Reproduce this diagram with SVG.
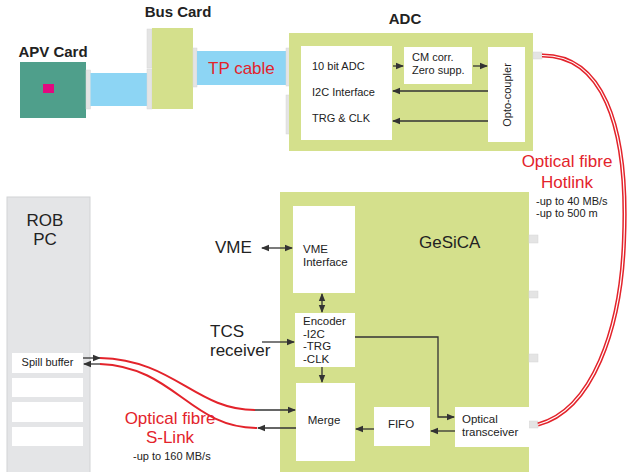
<svg xmlns="http://www.w3.org/2000/svg" width="627" height="472" viewBox="0 0 627 472">
<defs>
<style>
.g{fill:#d4e08c}
.w{fill:#ffffff}
.cn{fill:#e4e4e4;stroke:#d6d6d6;stroke-width:0.5}
.blue{fill:#8dd5f4}
text{font-family:"Liberation Sans",Arial,sans-serif;fill:#222}
.b15{font-size:15px;font-weight:bold}
.s11{font-size:11px}
.s115{font-size:11.5px}
.s17{font-size:17px}
.red{fill:#e3232b}
.ln{stroke:#333;stroke-width:1.3;fill:none}
.fib{stroke:#e3232b;stroke-width:2;fill:none}
</style>
<marker id="ah" viewBox="0 0 8 8" refX="7" refY="4" markerWidth="8" markerHeight="8" markerUnits="userSpaceOnUse" orient="auto-start-reverse">
<path d="M0,0.8 L8,4 L0,7.2 Z" fill="#333"/>
</marker>
</defs>

<g id="apv-card">
<rect x="20" y="62" width="66" height="56" fill="#4f9f8b"/>
<rect x="43" y="84" width="11" height="9" fill="#e2097f"/>
<rect class="cn" x="86" y="70" width="4.5" height="39"/>
<text class="b15" x="53" y="57" text-anchor="middle">APV Card</text>
</g>

<g id="apv-cable">
<rect class="blue" x="90.5" y="73" width="56.5" height="33"/>
</g>

<g id="bus-card">
<rect class="cn" x="147" y="29" width="5" height="39"/>
<rect class="cn" x="147" y="69" width="5" height="40"/>
<rect class="g" x="152" y="28" width="41" height="81"/>
<rect class="cn" x="193" y="48" width="4" height="39"/>
<text class="b15" x="178" y="17" text-anchor="middle">Bus Card</text>
</g>

<g id="tp-cable">
<rect class="blue" x="197" y="51" width="90" height="34"/>
<text class="s17 red" x="208" y="74">TP cable</text>
</g>

<g id="adc">
<rect class="cn" x="286" y="48" width="4" height="38"/>
<rect class="cn" x="286" y="95" width="4" height="39"/>
<rect class="g" x="289" y="33" width="244" height="118"/>
<text class="b15" x="405" y="24" text-anchor="middle">ADC</text>
<rect class="cn" x="533" y="52" width="9" height="7"/>
</g>

<g id="adc-main">
<rect class="w" x="301" y="46" width="91" height="94"/>
<text class="s11" x="312" y="70">10 bit ADC</text>
<text class="s11" x="312" y="96">I2C Interface</text>
<text class="s11" x="312" y="122">TRG &amp; CLK</text>
</g>

<g id="cm-corr">
<rect class="w" x="404" y="47" width="68" height="37"/>
<text class="s11" x="412" y="61">CM corr.</text>
<text class="s11" x="412" y="74">Zero supp.</text>
</g>

<g id="opto-coupler">
<rect class="w" x="488" y="47" width="37" height="95"/>
<text class="s11" x="0" y="0" text-anchor="middle" transform="translate(511,95) rotate(-90)">Opto-coupler</text>
</g>

<g id="rob-pc">
<rect x="7" y="197" width="83" height="277" fill="#e4e5e7" stroke="#d2d3d5" stroke-width="1"/>
<text class="s17" x="45" y="226" text-anchor="middle">ROB</text>
<text class="s17" x="45" y="245" text-anchor="middle">PC</text>
<rect class="w" x="12" y="353" width="71" height="20"/>
<text class="s11" x="47.5" y="366" text-anchor="middle">Spill buffer</text>
<rect class="w" x="12" y="378" width="71" height="19"/>
<rect class="w" x="12" y="402" width="71" height="20"/>
<rect class="w" x="12" y="427" width="71" height="19"/>
</g>

<g id="gesica">
<rect class="g" x="280" y="192" width="249" height="282"/>
<text class="s17" x="419" y="248">GeSiCA</text>
<rect class="cn" x="529" y="235" width="9" height="8"/>
<rect class="cn" x="529" y="291" width="9" height="7"/>
<rect class="cn" x="529" y="354" width="9" height="8"/>
<rect class="cn" x="529" y="421" width="9" height="7"/>
</g>

<g id="vme-interface">
<rect class="w" x="293" y="206" width="62" height="87"/>
<text class="s115" x="303" y="253">VME</text>
<text class="s115" x="303" y="266">Interface</text>
</g>

<g id="encoder">
<rect class="w" x="295" y="313" width="60" height="54"/>
<text class="s115" x="303" y="325">Encoder</text>
<text class="s115" x="303" y="338">-I2C</text>
<text class="s115" x="303" y="350">-TRG</text>
<text class="s115" x="303" y="363">-CLK</text>
</g>

<g id="merge">
<rect class="w" x="296" y="383" width="59" height="78"/>
<text class="s115" x="324" y="424" text-anchor="middle">Merge</text>
</g>

<g id="fifo">
<rect class="w" x="374" y="407" width="56" height="39"/>
<text class="s115" x="401" y="428" text-anchor="middle">FIFO</text>
</g>

<g id="optical-transceiver">
<rect class="w" x="455" y="407" width="74" height="40"/>
<text class="s115" x="462" y="423">Optical</text>
<text class="s115" x="462" y="436">transceiver</text>
</g>

<g id="labels">
<text class="s17" x="215" y="253">VME</text>
<text class="s17" x="210" y="337">TCS</text>
<text class="s17" x="210" y="356">receiver</text>
<text class="s17 red" x="567" y="167" text-anchor="middle">Optical fibre</text>
<text class="s17 red" x="567" y="188" text-anchor="middle">Hotlink</text>
<text class="s11" x="536" y="205">-up to 40 MB/s</text>
<text class="s11" x="536" y="217">-up to 500 m</text>
<text class="s17 red" x="170" y="424" text-anchor="middle">Optical fibre</text>
<text class="s17 red" x="170" y="443" text-anchor="middle">S-Link</text>
<text class="s11" x="133" y="460">-up to 160 MB/s</text>
</g>

<g id="connectors">
<line class="ln" x1="393" y1="66" x2="403" y2="66" marker-end="url(#ah)"/>
<line class="ln" x1="473" y1="66" x2="487" y2="66" marker-end="url(#ah)"/>
<line class="ln" x1="488" y1="91" x2="393" y2="91" marker-end="url(#ah)"/>
<line class="ln" x1="488" y1="121" x2="393" y2="121" marker-end="url(#ah)"/>
<path d="M542 55.5 C600 55, 629 120, 624 240 C621 330, 592 410, 538 424.5" stroke="#e3232b" stroke-width="4.2" fill="none"/>
<path d="M542 55.5 C600 55, 629 120, 624 240 C621 330, 592 410, 538 424.5" stroke="#ffffff" stroke-width="1.2" fill="none"/>
<line class="ln" x1="262" y1="248" x2="292" y2="248" marker-start="url(#ah)" marker-end="url(#ah)"/>
<line class="ln" x1="262" y1="342" x2="294" y2="342" marker-end="url(#ah)"/>
<line class="ln" x1="322" y1="294" x2="322" y2="312" marker-start="url(#ah)" marker-end="url(#ah)"/>
<line class="ln" x1="322" y1="367" x2="322" y2="382" marker-end="url(#ah)"/>
<path class="ln" d="M355 337 H438 V417 H454" marker-end="url(#ah)"/>
<line class="ln" x1="455" y1="431" x2="431" y2="431" marker-end="url(#ah)"/>
<line class="ln" x1="374" y1="429" x2="356" y2="429" marker-end="url(#ah)"/>
<line class="ln" x1="83" y1="358" x2="100" y2="358" marker-end="url(#ah)"/>
<line class="ln" x1="100" y1="364" x2="84" y2="364" marker-end="url(#ah)"/>
<path class="fib" d="M100 358 C175 360, 195 410, 255 410"/>
<path class="fib" d="M100 364 C175 367, 190 428, 257 428"/>
<line class="ln" x1="255" y1="410" x2="295" y2="410" marker-end="url(#ah)"/>
<line class="ln" x1="296" y1="428" x2="258" y2="428" marker-end="url(#ah)"/>
</g>
</svg>
